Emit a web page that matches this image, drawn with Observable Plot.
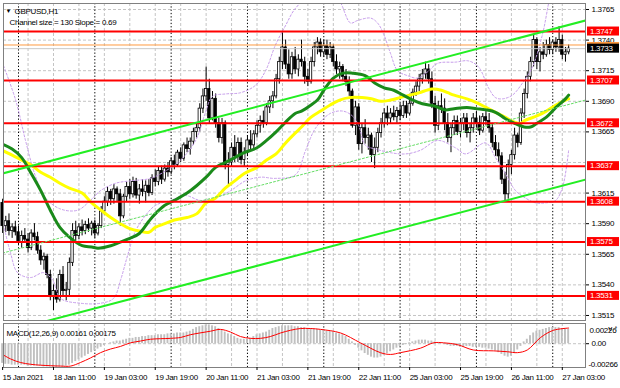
<!DOCTYPE html>
<html><head><meta charset="utf-8">
<script src="https://cdn.jsdelivr.net/npm/d3@7"></script>
<script src="https://cdn.jsdelivr.net/npm/@observablehq/plot@0.6"></script>
<style>
body{margin:0;background:#fff;width:620px;height:388px;overflow:hidden}
#chart svg{display:block}
</style></head><body><div id="chart"></div>
<script>
// ---------- DATA (GBPUSD H1, bar index 0 = 15 Jan 2021 19:00) ----------
const barOpen = [
1.3607,1.3588,1.3592,1.3584,1.3587,1.3583,1.3575,1.3580,1.3577,1.3570,
1.3582,1.3579,1.3568,1.3560,1.3563,1.3548,1.3530,1.3535,1.3528,1.3548,
1.3535,1.3536,1.3558,1.3584,1.3580,1.3587,1.3584,1.3589,1.3586,1.3590,
1.3582,1.3588,1.3600,1.3608,1.3616,1.3610,1.3618,1.3614,1.3596,1.3612,
1.3620,1.3614,1.3624,1.3613,1.3618,1.3616,1.3621,1.3615,1.3627,1.3624,
1.3633,1.3626,1.3635,1.3632,1.3641,1.3638,1.3648,1.3643,1.3654,1.3651,
1.3657,1.3665,1.3668,1.3684,1.3694,1.3700,1.3676,1.3692,1.3672,1.3660,
1.3672,1.3638,1.3640,1.3652,1.3645,1.3656,1.3642,1.3648,1.3658,1.3654,
1.3663,1.3670,1.3674,1.3672,1.3685,1.3690,1.3694,1.3708,1.3722,1.3734,
1.3720,1.3712,1.3726,1.3716,1.3724,1.3722,1.3710,1.3706,1.3722,1.3734,
1.3738,1.3730,1.3735,1.3728,1.3734,1.3722,1.3716,1.3718,1.3710,1.3706,
1.3698,1.3670,1.3685,1.3655,1.3668,1.3660,1.3662,1.3646,1.3652,1.3664,
1.3672,1.3680,1.3676,1.3680,1.3677,1.3682,1.3678,1.3686,1.3680,1.3688,
1.3697,1.3702,1.3708,1.3712,1.3716,1.3708,1.3688,1.3670,1.3686,1.3684,
1.3672,1.3660,1.3668,1.3674,1.3665,1.3672,1.3676,1.3664,1.3668,1.3676,
1.3672,1.3666,1.3677,1.3674,1.3668,1.3656,1.3650,1.3645,1.3626,1.3614,
1.3638,1.3646,1.3662,1.3656,1.3680,1.3696,1.3710,1.3722,1.3740,1.3722,
1.3730,1.3728,1.3736,1.3732,1.3738,1.3734,1.3740,1.3728,1.3730];
const barHigh = [
1.3610,1.3596,1.3598,1.3590,1.3592,1.3588,1.3584,1.3586,1.3582,1.3585,
1.3590,1.3583,1.3572,1.3566,1.3565,1.3552,1.3540,1.3545,1.3552,1.3555,
1.3542,1.3562,1.3590,1.3592,1.3590,1.3593,1.3592,1.3594,1.3592,1.3593,
1.3590,1.3604,1.3612,1.3620,1.3618,1.3622,1.3620,1.3618,1.3614,1.3624,
1.3626,1.3628,1.3627,1.3622,1.3626,1.3625,1.3626,1.3630,1.3634,1.3636,
1.3637,1.3638,1.3640,1.3644,1.3646,1.3650,1.3652,1.3656,1.3660,1.3660,
1.3668,1.3672,1.3688,1.3700,1.3718,1.3708,1.3698,1.3696,1.3676,1.3676,
1.3674,1.3648,1.3656,1.3662,1.3660,1.3660,1.3652,1.3662,1.3666,1.3666,
1.3674,1.3678,1.3682,1.3688,1.3694,1.3698,1.3712,1.3726,1.3746,1.3740,
1.3732,1.3730,1.3734,1.3728,1.3740,1.3726,1.3716,1.3726,1.3738,1.3742,
1.3741,1.3740,1.3740,1.3738,1.3736,1.3728,1.3722,1.3720,1.3716,1.3710,
1.3700,1.3690,1.3688,1.3672,1.3675,1.3668,1.3664,1.3660,1.3668,1.3676,
1.3684,1.3686,1.3684,1.3686,1.3685,1.3688,1.3690,1.3690,1.3692,1.3700,
1.3706,1.3712,1.3716,1.3722,1.3720,1.3714,1.3694,1.3690,1.3696,1.3692,
1.3680,1.3672,1.3678,1.3678,1.3676,1.3680,1.3680,1.3672,1.3680,1.3682,
1.3678,1.3680,1.3684,1.3680,1.3672,1.3662,1.3656,1.3648,1.3632,1.3642,
1.3650,1.3668,1.3664,1.3684,1.3700,1.3714,1.3726,1.3744,1.3742,1.3734,
1.3738,1.3740,1.3742,1.3740,1.3742,1.3751,1.3744,1.3734,1.3736];
const barLow = [
1.3582,1.3583,1.3580,1.3578,1.3580,1.3572,1.3570,1.3574,1.3566,1.3568,
1.3576,1.3565,1.3556,1.3552,1.3545,1.3527,1.3519,1.3525,1.3526,1.3530,
1.3527,1.3530,1.3555,1.3576,1.3577,1.3580,1.3581,1.3583,1.3580,1.3578,
1.3580,1.3586,1.3597,1.3604,1.3605,1.3606,1.3608,1.3588,1.3594,1.3608,
1.3610,1.3611,1.3610,1.3606,1.3612,1.3607,1.3612,1.3613,1.3620,1.3621,
1.3622,1.3624,1.3628,1.3630,1.3634,1.3636,1.3640,1.3641,1.3648,1.3646,
1.3654,1.3660,1.3665,1.3680,1.3690,1.3672,1.3674,1.3668,1.3656,1.3655,
1.3634,1.3622,1.3636,1.3640,1.3640,1.3638,1.3636,1.3645,1.3650,1.3651,
1.3660,1.3664,1.3668,1.3670,1.3680,1.3684,1.3692,1.3704,1.3716,1.3716,
1.3708,1.3708,1.3712,1.3710,1.3718,1.3704,1.3702,1.3704,1.3718,1.3728,
1.3726,1.3726,1.3724,1.3725,1.3718,1.3712,1.3708,1.3706,1.3702,1.3694,
1.3668,1.3662,1.3650,1.3647,1.3655,1.3650,1.3640,1.3635,1.3648,1.3660,
1.3668,1.3670,1.3672,1.3674,1.3672,1.3674,1.3676,1.3676,1.3678,1.3686,
1.3694,1.3698,1.3704,1.3708,1.3704,1.3684,1.3664,1.3666,1.3680,1.3666,
1.3656,1.3648,1.3662,1.3662,1.3660,1.3666,1.3660,1.3656,1.3664,1.3668,
1.3662,1.3664,1.3670,1.3664,1.3652,1.3645,1.3640,1.3622,1.3608,1.3610,
1.3630,1.3642,1.3652,1.3654,1.3676,1.3692,1.3706,1.3718,1.3716,1.3714,
1.3724,1.3726,1.3728,1.3728,1.3730,1.3730,1.3724,1.3722,1.3728];
const barClose = [
1.3588,1.3592,1.3584,1.3587,1.3583,1.3575,1.3580,1.3577,1.3570,1.3582,
1.3579,1.3568,1.3560,1.3563,1.3548,1.3530,1.3535,1.3528,1.3548,1.3535,
1.3536,1.3558,1.3584,1.3580,1.3587,1.3584,1.3589,1.3586,1.3590,1.3582,
1.3588,1.3600,1.3608,1.3616,1.3610,1.3618,1.3614,1.3596,1.3612,1.3620,
1.3614,1.3624,1.3613,1.3618,1.3616,1.3621,1.3615,1.3627,1.3624,1.3633,
1.3626,1.3635,1.3632,1.3641,1.3638,1.3648,1.3643,1.3654,1.3651,1.3657,
1.3665,1.3668,1.3684,1.3694,1.3700,1.3676,1.3692,1.3672,1.3660,1.3672,
1.3638,1.3640,1.3652,1.3645,1.3656,1.3642,1.3648,1.3658,1.3654,1.3663,
1.3670,1.3674,1.3672,1.3685,1.3690,1.3694,1.3708,1.3722,1.3734,1.3720,
1.3712,1.3726,1.3716,1.3724,1.3722,1.3710,1.3706,1.3722,1.3734,1.3738,
1.3730,1.3735,1.3728,1.3734,1.3722,1.3716,1.3718,1.3710,1.3706,1.3698,
1.3670,1.3685,1.3655,1.3668,1.3660,1.3662,1.3646,1.3652,1.3664,1.3672,
1.3680,1.3676,1.3680,1.3677,1.3682,1.3678,1.3686,1.3680,1.3688,1.3697,
1.3702,1.3708,1.3712,1.3716,1.3708,1.3688,1.3670,1.3686,1.3684,1.3672,
1.3660,1.3668,1.3674,1.3665,1.3672,1.3676,1.3664,1.3668,1.3676,1.3672,
1.3666,1.3677,1.3674,1.3668,1.3656,1.3650,1.3645,1.3626,1.3614,1.3638,
1.3646,1.3662,1.3656,1.3680,1.3696,1.3710,1.3722,1.3740,1.3722,1.3730,
1.3728,1.3736,1.3732,1.3738,1.3734,1.3740,1.3728,1.3730,1.3733];

// moving averages / bands: [bar, price]
const maGreen = [[-1,1.3656],[3,1.3651],[6,1.3644],[9,1.3631],[12,1.3617],[15,1.3601],[18,1.3587],[21,1.3579],[25,1.3572],[28,1.3571],[30,1.3570],[34,1.3572],[37,1.3575],[40,1.3578],[43,1.3582],[46,1.3592],[48,1.3598],[51,1.3605],[54,1.3609],[58,1.3615],[61,1.3621],[64,1.3628],[67,1.3636],[70,1.3640],[73,1.3644],[76,1.3648],[80,1.3652],[83,1.3658],[86,1.3665],[89,1.3673],[92,1.3680],[94,1.3682],[97,1.3687],[99,1.3691],[101,1.3699],[104,1.3709],[107,1.3713],[110,1.3713],[114,1.3711],[117,1.3705],[120,1.3701],[123,1.3699],[126,1.3695],[129,1.3691],[132,1.3688],[136,1.3686],[139,1.3683],[142,1.3684],[146,1.3685],[149,1.3684],[152,1.3683],[155,1.3681],[158,1.3676],[161,1.3672],[164,1.3669],[166,1.3669],[168,1.3672],[171,1.3677],[174,1.3685],[177,1.3692],[178,1.3695]];
const maYellow = [[-1,1.3651],[3,1.3646],[6,1.3642],[9,1.3638],[12,1.3632],[15,1.3628],[18,1.3623],[21,1.3619],[25,1.3615],[28,1.3607],[31,1.3601],[34,1.3595],[37,1.3590],[40,1.3586],[43,1.3584],[46,1.3583],[48,1.3587],[51,1.3590],[54,1.3593],[58,1.3595],[61,1.3598],[64,1.3607],[67,1.3611],[70,1.3619],[73,1.3625],[76,1.3631],[80,1.3636],[83,1.3642],[86,1.3647],[89,1.3656],[92,1.3664],[94,1.3669],[97,1.3677],[100,1.3682],[103,1.3687],[106,1.3691],[109,1.3693],[113,1.3693],[116,1.3692],[119,1.3690],[122,1.3691],[125,1.3693],[128,1.3695],[131,1.3697],[135,1.3700],[138,1.3699],[140,1.3697],[142,1.3695],[146,1.3692],[149,1.3689],[152,1.3685],[155,1.3681],[158,1.3677],[161,1.3673],[163,1.3672],[164,1.3674],[168,1.3678],[171,1.3682],[174,1.3687],[177,1.3691],[178,1.3692]];
const bandUpper = [[0.3,1.3719],[4.1,1.3691],[7.2,1.3658],[10.3,1.3629],[13.5,1.3611],[18.2,1.3602],[23.6,1.3601],[27.6,1.3609],[30.8,1.3617],[35.5,1.3623],[40.2,1.3625],[46.5,1.3627],[51.2,1.3633],[56,1.3642],[60.7,1.3658],[63.8,1.3681],[66,1.3694],[70.1,1.3696],[74.8,1.3697],[79.5,1.3703],[82.7,1.3715],[85.8,1.3736],[89,1.3752],[92.1,1.3766],[96.8,1.3776],[104.7,1.3776],[109.4,1.3754],[111.6,1.3756],[115.7,1.3758],[117.9,1.3754],[119.8,1.3745],[122,1.3729],[124.2,1.3715],[127.3,1.3711],[130.5,1.3709],[133.6,1.3714],[136.8,1.3721],[142.4,1.3722],[146.5,1.3723],[149.7,1.3718],[152.8,1.3701],[155,1.3693],[157.2,1.3692],[160.3,1.3695],[163.5,1.3705],[166.6,1.3718],[169.8,1.3745],[171.7,1.3770],[173,1.3785]];
const bandLower = [[0.3,1.3589],[2.5,1.3566],[4.7,1.3550],[8.8,1.3546],[12.9,1.3550],[15.7,1.3544],[18.2,1.3529],[24.5,1.3525],[30.8,1.3525],[34.9,1.3529],[37.1,1.3544],[39.3,1.3564],[41.8,1.3584],[45,1.3597],[48.1,1.3605],[52.8,1.3609],[57.5,1.3613],[62.2,1.3609],[67,1.3611],[71.7,1.3617],[76.4,1.3625],[81.1,1.3628],[85.8,1.3627],[92.1,1.3630],[95.3,1.3650],[98.4,1.3668],[103,1.3680],[107,1.3682],[110,1.3678],[112,1.3670],[114.1,1.3654],[117.3,1.3651],[122,1.3648],[126.7,1.3647],[131.4,1.3650],[136.8,1.3658],[142.4,1.3652],[145.6,1.3647],[151.9,1.3656],[155,1.3644],[158.1,1.3631],[161.3,1.3617],[164.4,1.3611],[167.6,1.3607],[170.7,1.3607],[173.9,1.3609],[176.1,1.3620],[178,1.3650]];

// equidistant channel (Channel size = 130, Slope = 0.69)
const channelBars = [0, 183.3];
const channelUpper = [1.3631, 1.3756];
const channelSize = 0.0130;

// horizontal levels
const levels = [1.3747, 1.3707, 1.3672, 1.3637, 1.3608, 1.3575, 1.3531];
const askPrice = 1.3736;
const bidPrice = 1.3733;
const priceGrid = [1.3515, 1.3540, 1.3565, 1.3590, 1.3615, 1.3640, 1.3665, 1.3690, 1.3715, 1.3740, 1.3765];
const priceTickLabels = [1.3515, 1.3540, 1.3565, 1.3590, 1.3615, 1.3665, 1.3690, 1.3715, 1.3740, 1.3765];

// time axis
const timeTickBars = [0, 16, 32, 48, 64, 80, 96, 112, 128, 144, 160, 176];
const timeTickLabels = ["15 Jan 2021", "18 Jan 11:00", "19 Jan 03:00", "19 Jan 19:00", "20 Jan 11:00", "21 Jan 03:00", "21 Jan 19:00", "22 Jan 11:00", "25 Jan 03:00", "25 Jan 19:00", "26 Jan 11:00", "27 Jan 03:00"];
const gridBars = [8, 16, 24, 32, 40, 48, 56, 64, 72, 80, 88, 96, 104, 112, 120, 128, 136, 144, 152, 160, 168, 176];
const dayBars = [5, 29, 53, 77, 101, 125, 149, 173];

// MACD(12,26,9)
const macdMain = [
-0.0022,-0.0023,-0.0023,-0.0024,-0.0024,-0.0024,-0.0024,-0.0024,-0.0025,-0.0025,
-0.0025,-0.0025,-0.0025,-0.0026,-0.0026,-0.0026,-0.00266,-0.00266,-0.0026,-0.0026,
-0.0025,-0.0024,-0.0022,-0.0020,-0.0018,-0.0016,-0.0014,-0.0012,-0.0010,-0.0008,
-0.0006,-0.0004,-0.0002,0.0000,0.0001,0.0002,0.0003,0.0003,0.0004,0.0005,
0.0006,0.0006,0.0007,0.0007,0.0008,0.0008,0.0009,0.0009,0.0009,0.0010,
0.0010,0.0010,0.0011,0.0011,0.0011,0.0012,0.0012,0.0012,0.0013,0.0014,
0.0016,0.0018,0.0019,0.0020,0.0021,0.0021,0.0020,0.0019,0.0017,0.0015,
0.0013,0.0011,0.0010,0.0008,0.0006,0.0005,0.0005,0.0005,0.0006,0.0008,
0.0010,0.0011,0.0012,0.0013,0.0015,0.0017,0.0018,0.0019,0.0020,0.0020,
0.0020,0.0020,0.0019,0.0019,0.0018,0.0018,0.0017,0.0017,0.0016,0.0016,
0.0015,0.0015,0.0014,0.0014,0.0013,0.0012,0.0011,0.0010,0.0008,0.0005,
0.0002,-0.0002,-0.0005,-0.0008,-0.0011,-0.0013,-0.0015,-0.0016,-0.0016,-0.0015,
-0.0013,-0.0011,-0.0009,-0.0007,-0.0005,-0.0003,-0.0002,-0.0001,0.0001,0.0002,
0.0003,0.0004,0.0004,0.0004,0.0003,0.0003,0.0002,0.0001,0.0000,-0.0001,
-0.0002,-0.0003,-0.0003,-0.0003,-0.0004,-0.0004,-0.0003,-0.0003,-0.0004,-0.0004,
-0.0004,-0.0005,-0.0005,-0.0006,-0.0007,-0.0008,-0.0010,-0.0012,-0.0014,-0.0015,
-0.0014,-0.0011,-0.0007,-0.0003,0.0002,0.0005,0.0009,0.0012,0.0014,0.0015,
0.0016,0.0017,0.0018,0.0018,0.0018,0.0018,0.0017,0.0017,0.00161];
const macdSignal = [[-1,-0.0010],[2.5,-0.0017],[5.6,-0.0021],[8.8,-0.0023],[11.9,-0.0024],[18.2,-0.0025],[21.4,-0.0025],[24.5,-0.0021],[27.6,-0.0016],[30.8,-0.0010],[33.9,-0.0006],[37.1,-0.0003],[40.2,0.0001],[43.4,0.0003],[46.5,0.0005],[52.8,0.0006],[56,0.0007],[59,0.0010],[62,0.0012],[65.4,0.0014],[68.5,0.0016],[71.7,0.0013],[74.8,0.0008],[78,0.0006],[81.1,0.0006],[84.2,0.0008],[87.4,0.0012],[90.5,0.0015],[93.7,0.0017],[96.8,0.0017],[100,0.0016],[106.3,0.0012],[112.5,0.0001],[118.8,-0.0010],[122,-0.0012],[125.1,-0.0010],[131.4,-0.0005],[135.5,0.0001],[138.7,0.0001],[143,-0.0001],[148,-0.0007],[154.4,-0.0008],[158.8,-0.0009],[161.9,-0.0010],[165,-0.0007],[169.2,0.0007],[173.2,0.0015],[178,0.00175]];
const macdTicks = [0.00226, 0, -0.00266];

// ---------- BUILD ----------
const candles = barClose.map((c, i) => ({i, o: barOpen[i], h: barHigh[i], l: barLow[i], c}));
const chan = (off) => channelBars.map((b, k) => [b, channelUpper[k] - off]);
const xDomain = [0.28, 183.3];
const font = "'Liberation Sans', Arial, sans-serif";
const styleObj = {fontFamily: font, fontSize: "8px", background: "white", color: "black", overflow: "visible", letterSpacing: "-0.3px"};
const gridStyle = {stroke: "#c4c4c4", strokeDasharray: "3,2", strokeWidth: 1};
const dayStyle = {stroke: "#000", strokeDasharray: "1.3,2", strokeWidth: 1};

const main = Plot.plot({
  width: 620, height: 322,
  marginLeft: 3, marginRight: 35, marginTop: 3, marginBottom: 2,
  x: {domain: xDomain, axis: null},
  y: {domain: [1.35109, 1.37699]},
  color: {type: "identity"},
  style: styleObj,
  marks: [
    Plot.ruleY(priceGrid, gridStyle),
    Plot.ruleX(gridBars, gridStyle),
    Plot.ruleX(dayBars, dayStyle),
    Plot.ruleX(candles, {x: "i", y1: "l", y2: "h", stroke: "#000", strokeWidth: 1}),
    Plot.rect(candles, {x1: d => d.i - 0.37, x2: d => d.i + 0.37, y1: "o", y2: "c",
      fill: d => d.c >= d.o ? "#ffffff" : "#000000", stroke: "#000", strokeWidth: 0.8}),
    Plot.line(bandUpper, {x: d => d[0], y: d => d[1], stroke: "#c69ceb", strokeWidth: 1, strokeDasharray: "2,2", curve: "catmull-rom", clip: true}),
    Plot.line(bandLower, {x: d => d[0], y: d => d[1], stroke: "#c69ceb", strokeWidth: 1, strokeDasharray: "2,2", curve: "catmull-rom", clip: true}),
    Plot.line(maYellow, {x: d => d[0], y: d => d[1], stroke: "#ffff00", strokeWidth: 3, curve: "catmull-rom", clip: true}),
    Plot.line(maGreen, {x: d => d[0], y: d => d[1], stroke: "#1a8a1a", strokeWidth: 3, curve: "catmull-rom", clip: true}),
    Plot.ruleY([bidPrice], {stroke: "#c8c8c8", strokeWidth: 1}),
    Plot.ruleY([askPrice], {stroke: "#ff9a40", strokeWidth: 1}),
    Plot.ruleY(levels, {stroke: "#ff0000", strokeWidth: 2}),
    Plot.line(chan(channelSize / 2), {x: d => d[0], y: d => d[1], stroke: "#66dd66", strokeWidth: 1, strokeDasharray: "2,2", clip: true}),
    Plot.line(chan(0), {x: d => d[0], y: d => d[1], stroke: "#22ee22", strokeWidth: 2, clip: true}),
    Plot.line(chan(channelSize), {x: d => d[0], y: d => d[1], stroke: "#22ee22", strokeWidth: 2, clip: true}),
    Plot.frame({stroke: "#808080"}),
    Plot.axisY(priceTickLabels, {anchor: "right", tickSize: 3, tickPadding: 3, tickFormat: d => d.toFixed(4), fontSize: 8}),
    Plot.text(["\u25BC"], {text: d => d, frameAnchor: "top-left", dx: 2, dy: 5, fontSize: 6, textAnchor: "start"}),
    Plot.text(["GBPUSD,H1"], {text: d => d, frameAnchor: "top-left", dx: 11, dy: 5, textAnchor: "start"}),
    Plot.text(["Channel size = 130 Slope = 0.69"], {text: d => d, frameAnchor: "top-left", dx: 6, dy: 16, textAnchor: "start"})
  ]
});

// price label boxes on the right axis (positions from Plot's y scale)
{
  const ys = main.scale("y");
  const g = d3.select(main).append("g").attr("font-family", font).attr("font-size", 8)
    .attr("text-anchor", "start").attr("letter-spacing", "-0.3px");
  const box = (v, fill, txt, h) => {
    const py = ys.apply(v);
    g.append("rect").attr("x", 587).attr("y", py - h / 2).attr("width", 32).attr("height", h).attr("fill", fill);
    if (txt) g.append("text").attr("x", 590).attr("y", py).attr("dy", "0.35em").attr("fill", "#fff").text(txt);
  };
  levels.forEach(v => box(v, "#ff0000", v.toFixed(4), 9));
  box(askPrice, "#ff9a40", null, 5);
  box(bidPrice, "#000000", bidPrice.toFixed(4), 9);
}

const macdBars = macdMain.map((v, i) => ({i, v}));
const macd = Plot.plot({
  width: 620, height: 66,
  marginLeft: 3, marginRight: 35, marginTop: 1, marginBottom: 21,
  x: {domain: xDomain},
  y: {domain: [-0.00266, 0.00226]},
  style: styleObj,
  marks: [
    Plot.ruleY([0], gridStyle),
    Plot.ruleX(gridBars, gridStyle),
    Plot.ruleX(dayBars, dayStyle),
    Plot.rect(macdBars, {x1: d => d.i - 0.3, x2: d => d.i + 0.3, y1: 0, y2: "v", fill: "#c0c0c0"}),
    Plot.line(macdSignal, {x: d => d[0], y: d => d[1], stroke: "#ff0000", strokeWidth: 1, curve: "catmull-rom", clip: true}),
    Plot.frame({stroke: "#808080"}),
    Plot.axisX(timeTickBars, {anchor: "bottom", tickSize: 3, tickPadding: 4, textAnchor: "start",
      tickFormat: d => timeTickLabels[timeTickBars.indexOf(d)], fontSize: 8}),
    Plot.axisY([0], {anchor: "right", tickSize: 3, tickPadding: 3, tickFormat: () => "0.00", fontSize: 8}),
    Plot.text([macdTicks[0]], {y: d => d, text: d => d.toFixed(5), frameAnchor: "right", dx: 4, dy: 7, textAnchor: "start"}),
    Plot.text([macdTicks[2]], {y: d => d, text: d => d.toFixed(5), frameAnchor: "right", dx: 3, dy: -3, textAnchor: "start"}),
    Plot.text(["MACD(12,26,9) 0.00161 0.00175"], {text: d => d, frameAnchor: "top-left", dx: 3, dy: 7, textAnchor: "start"})
  ]
});

const host = document.getElementById("chart");
host.appendChild(main);
host.appendChild(macd);
</script>
</body></html>
